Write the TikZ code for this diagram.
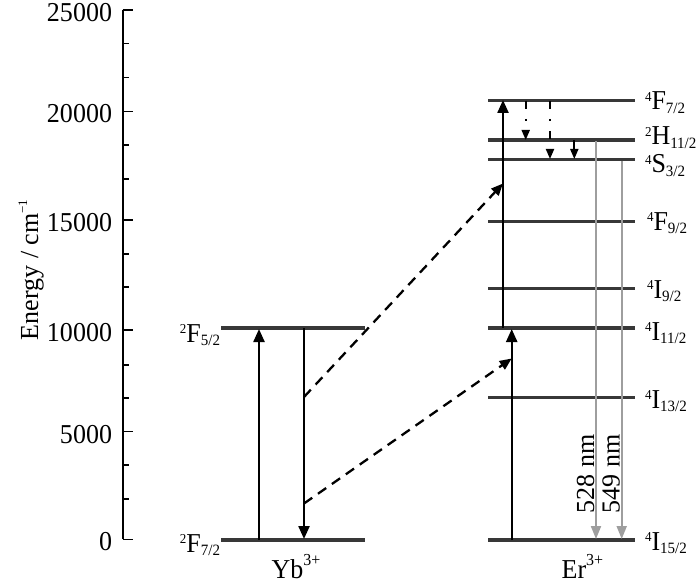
\documentclass[tikz,border=0pt]{standalone}
\usepackage{fontspec}
\setmainfont{Liberation Serif}
\usetikzlibrary{arrows.meta}
\newcommand{\lvlab}[3]{\raisebox{8bp}{\fontsize{13bp}{13bp}\selectfont #1}#2\raisebox{-3.5bp}{\fontsize{15bp}{15bp}\selectfont #3}}
\newcommand{\ionlab}[2]{#1\raisebox{12bp}{\fontsize{16bp}{16bp}\selectfont #2}}
\begin{document}
\begin{tikzpicture}[x=1bp,y=-1bp,
  every node/.style={inner sep=0pt, outer sep=0pt, font=\fontsize{26bp}{30bp}\selectfont},
  hlab/.style={yscale=1.05},
  level/.style={line width=3.2bp, draw=black!78},
  axisline/.style={line width=1.6bp},
  tickline/.style={line width=1.4bp},
  bigarrow/.style={line width=2.3bp, -{Triangle[length=13bp,width=11bp]}},
  dasharrow/.style={line width=2.3bp, dash pattern=on 10bp off 7bp, -{Triangle[length=12bp,width=10bp]}},
  ddarrow/.style={line width=1.8bp, dash pattern=on 8bp off 10bp on 2bp off 10bp, -{Triangle[length=10bp,width=8bp]}},
  smallarrow/.style={line width=1.8bp, -{Triangle[length=10bp,width=8bp]}},
  greyarrow/.style={line width=2bp, draw=black!38, fill=black!38, -{Triangle[length=13bp,width=10bp]}},
  ticklab/.style={hlab, anchor=base east},
  erlab/.style={hlab, anchor=base west},
  yblab/.style={hlab, anchor=base east},
]
\useasboundingbox (0,0) rectangle (700,586);

% axis
\coordinate (axtop) at (122.7,10);
\coordinate (axbot) at (122.7,539.3);
\draw[axisline] (axtop) -- (axbot);
\foreach \y/\v/\n in {10/25000/t25, 111.3/20000/t20, 220/15000/t15, 330/10000/t10, 431.7/5000/t5, 539.3/0/t0}{
  \draw[tickline] (122.7,\y) -- ++(10,0);
  \node[ticklab] (\n) at (112,\y+11.5) {\v};
}
\foreach \y in {43.7,77.3,145,179,254,287,365,398,465,499}{
  \draw[tickline] (122.7,\y) -- ++(6,0);
}
\node[rotate=90, anchor=base west] (ylab) at (38,340) {Energy / cm\raisebox{11bp}{\fontsize{13bp}{13bp}\selectfont −1}};

% Yb levels
\coordinate (ybUL) at (221,328); \coordinate (ybUR) at (365,328);
\coordinate (ybGL) at (221,540); \coordinate (ybGR) at (365,540);
\draw[level] (ybUL) -- (ybUR);
\draw[level] (ybGL) -- (ybGR);
\node[yblab] (lF52) at (220,342) {\lvlab{2}{F}{5/2}};
\node[yblab] (lF72) at (220,552) {\lvlab{2}{F}{7/2}};
\node[hlab, anchor=base west] (yb) at (271.7,578) {\ionlab{Yb}{3+}};

% Er levels
\foreach \y/\n in {100.7/eF7, 140/eH11, 159.3/eS3, 221.7/eF9, 288.3/eI9, 328/eI11, 397.7/eI13, 540/eI15}{
  \coordinate (\n L) at (488,\y);
  \coordinate (\n R) at (635,\y);
  \draw[level] (\n L) -- (\n R);
}
\node[erlab] (lF7) at (645,110) {\lvlab{4}{F}{7/2}};
\node[erlab] (lH11) at (645,145) {\lvlab{2}{H}{11/2}};
\node[erlab] (lS3) at (645,173) {\lvlab{4}{S}{3/2}};
\node[erlab] (lF9) at (647,230) {\lvlab{4}{F}{9/2}};
\node[erlab] (lI9) at (647,298) {\lvlab{4}{I}{9/2}};
\node[erlab] (lI11) at (645,340) {\lvlab{4}{I}{11/2}};
\node[erlab] (lI13) at (645,408) {\lvlab{4}{I}{13/2}};
\node[erlab] (lI15) at (645,550) {\lvlab{4}{I}{15/2}};
\node[hlab, anchor=base west] (er) at (561.7,578) {\ionlab{Er}{3+}};

% Yb transitions
\coordinate (ybA1) at (259,540); \coordinate (ybA2) at (259,329);
\coordinate (ybE1) at (304,328); \coordinate (ybE2) at (304,539);
\draw[bigarrow] (ybA1) -- (ybA2);
\draw[bigarrow] (ybE1) -- (ybE2);

% energy transfer
\coordinate (d1s) at (304,397); \coordinate (d1e) at (503,183.5);
\coordinate (d2s) at (304,503.5); \coordinate (d2e) at (511.7,358.5);
\draw[dasharrow] (d1s) -- (d1e);
\draw[dasharrow] (d2s) -- (d2e);

% Er excitation
\coordinate (e1s) at (511.7,540); \coordinate (e1e) at (511.7,329);
\coordinate (e2s) at (503,328); \coordinate (e2e) at (503,100);
\draw[bigarrow] (e1s) -- (e1e);
\draw[bigarrow] (e2s) -- (e2e);

% relaxations
\coordinate (dd1s) at (525.7,101); \coordinate (dd1e) at (525.7,140);
\coordinate (dd2s) at (550,101); \coordinate (dd2e) at (550,159);
\coordinate (sas) at (574.3,140); \coordinate (sae) at (574.3,159);
\draw[ddarrow] (dd1s) -- (dd1e);
\draw[ddarrow] (dd2s) -- (dd2e);
\draw[smallarrow] (sas) -- (sae);

% emissions
\coordinate (g1s) at (596,141.5); \coordinate (g1e) at (596,539);
\coordinate (g2s) at (621.7,160.8); \coordinate (g2e) at (621.7,539);
\draw[greyarrow] (g1s) -- (g1e);
\draw[greyarrow] (g2s) -- (g2e);
\node[rotate=90, anchor=base west] (n528) at (594,513) {528 nm};
\node[rotate=90, anchor=base west] (n549) at (619.5,513) {549 nm};
\end{tikzpicture}
\end{document}
